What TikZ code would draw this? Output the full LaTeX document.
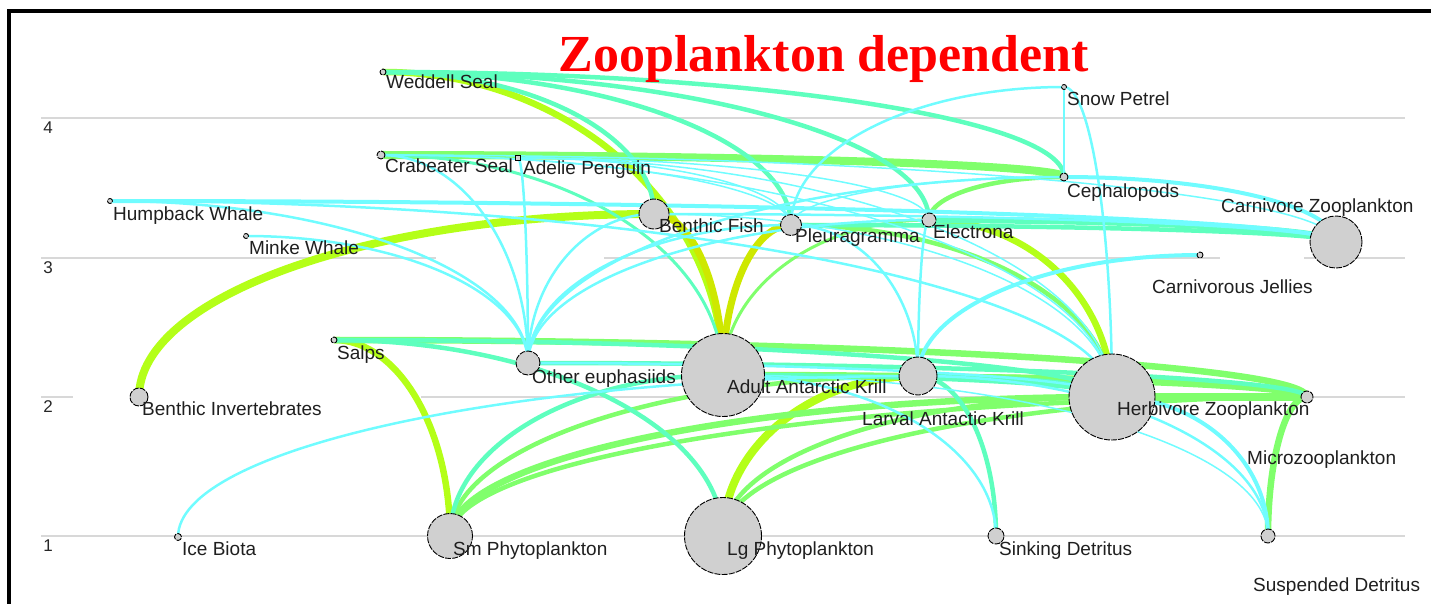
\documentclass[tikz,border=0pt]{standalone}
\usepackage{fontspec}
\setmainfont{Liberation Serif}
\setsansfont{Liberation Sans}
\usetikzlibrary{calc,backgrounds}

\definecolor{flowcyan}{RGB}{112,252,255}
\definecolor{flowaqua}{RGB}{94,255,190}
\definecolor{flowgreen}{RGB}{128,255,108}
\definecolor{flowlime}{RGB}{180,255,24}
\definecolor{flowolive}{RGB}{206,232,0}
\definecolor{nodegray}{RGB}{208,208,208}
\definecolor{gridgray}{RGB}{216,216,216}

\tikzset{
  taxon/.style={circle, draw=black, line width=0.9pt, dash pattern=on 6pt off 1.2pt,
    fill=nodegray, inner sep=0pt, minimum size=#1},
  taxlabel/.style={anchor=base west, inner sep=0pt, text=black!88,
    font=\sffamily\fontsize{19}{19}\selectfont},
  ticklabel/.style={inner sep=0pt, text=black!85, font=\sffamily\fontsize{17}{17}\selectfont},
  gridline/.style={draw=gridgray, line width=1.5pt},
  cyA/.style={draw=flowcyan, line width=1.5pt},
  cyB/.style={draw=flowcyan, line width=2.5pt},
  cyC/.style={draw=flowcyan, line width=4pt},
  aqT/.style={draw=flowaqua, line width=3pt},
  aqA/.style={draw=flowaqua, line width=4.5pt},
  aqB/.style={draw=flowaqua, line width=6.5pt},
  grT/.style={draw=flowgreen, line width=3pt},
  grA/.style={draw=flowgreen, line width=4.5pt},
  grB/.style={draw=flowgreen, line width=6.5pt},
  grC/.style={draw=flowgreen, line width=8pt},
  ygA/.style={draw=flowlime, line width=6.5pt},
  ygB/.style={draw=flowlime, line width=8pt},
  olB/.style={draw=flowolive, line width=7pt}
}

% quarter ellipse: up out of the prey, level into the predator
\newcommand{\foodflow}[3]{%
  \draw[#3] (#1.center) .. controls ($(#1.center)!0.55!(#1.center|-#2.center)$)
    and ($(#2.center)!0.55!(#1.center|-#2.center)$) .. (#2.center);}

\begin{document}
\begin{tikzpicture}[x=1pt,y=-1pt]
\useasboundingbox (0,0) rectangle (1431,604);

% groups
\node[taxon=6pt] (weddell) at (383,72) {};
\node[taxon=5pt] (petrel) at (1064,87) {};
\node[taxon=8pt] (crabeater) at (381,155) {};
\node[rectangle, draw=black, line width=0.9pt, fill=nodegray, inner sep=0pt, minimum size=5pt] (adelie) at (518,158) {};
\node[taxon=8pt] (cephal) at (1064,177) {};
\node[taxon=5pt] (humpback) at (110,201) {};
\node[taxon=5pt] (minke) at (246,236) {};
\node[taxon=30pt] (bfish) at (654,214) {};
\node[taxon=21pt] (pleura) at (791,225) {};
\node[taxon=14pt] (electrona) at (929,220) {};
\node[taxon=52pt] (carnzoo) at (1336,242) {};
\node[taxon=6pt] (jellies) at (1200,255) {};
\node[taxon=6pt] (salps) at (334,340) {};
\node[taxon=24pt] (euph) at (528,363) {};
\node[taxon=83pt] (akrill) at (723,375) {};
\node[taxon=38pt] (lkrill) at (918,376) {};
\node[taxon=86pt] (herbzoo) at (1112,397) {};
\node[taxon=12pt] (microzoo) at (1307,397) {};
\node[taxon=18pt] (binv) at (139,397) {};
\node[taxon=7pt] (icebiota) at (178,537) {};
\node[taxon=45pt] (smphyto) at (450,536) {};
\node[taxon=77pt] (lgphyto) at (723,536) {};
\node[taxon=16pt] (sinkdet) at (996,536) {};
\node[taxon=14pt] (suspdet) at (1268,536) {};

\begin{pgfonlayer}{background}
\draw[gridline] (41,118) -- (1405,118);
\draw[gridline] (41,258) -- (436,258);
\draw[gridline] (604,258) -- (1220,258);
\draw[gridline] (1304,258) -- (1405,258);
\draw[gridline] (41,397) -- (73,397);
\draw[gridline] (421,397) -- (1405,397);
\draw[gridline] (41,536) -- (1405,536);
% flows, prey/predator/look
\foreach \prey/\pred/\kind in {
  binv/bfish/ygB, akrill/weddell/ygA, akrill/bfish/olB, akrill/pleura/olB,
  lgphyto/lkrill/ygB, smphyto/salps/ygA,
  herbzoo/electrona/ygA, cephal/crabeater/grC, microzoo/herbzoo/grC,
  microzoo/salps/grB, microzoo/akrill/grB, microzoo/lkrill/grA,
  smphyto/herbzoo/grB, smphyto/microzoo/grA, smphyto/lkrill/grA,
  lgphyto/herbzoo/grA, lgphyto/microzoo/grA, suspdet/microzoo/grB,
  herbzoo/pleura/grA, electrona/cephal/grA, akrill/electrona/grT,
  bfish/weddell/aqA, pleura/weddell/aqA, electrona/weddell/aqA, cephal/weddell/aqA,
  carnzoo/electrona/aqB, carnzoo/pleura/aqA, microzoo/euph/aqA,
  herbzoo/akrill/aqA, herbzoo/salps/aqA, lgphyto/salps/aqA, smphyto/akrill/aqA,
  sinkdet/lkrill/aqA, herbzoo/lkrill/aqA, akrill/crabeater/aqT,
  euph/crabeater/cyB, euph/adelie/cyB, euph/humpback/cyB, euph/minke/cyB,
  euph/bfish/cyB, euph/pleura/cyB, euph/electrona/cyB, euph/cephal/cyB,
  pleura/adelie/cyA, pleura/petrel/cyB, pleura/cephal/cyA, pleura/crabeater/cyA,
  electrona/adelie/cyA, cephal/petrel/cyA, herbzoo/petrel/cyB,
  carnzoo/humpback/cyC, carnzoo/bfish/cyB, carnzoo/cephal/cyC, carnzoo/crabeater/cyA,
  herbzoo/humpback/cyB, herbzoo/bfish/cyA, herbzoo/euph/cyB,
  herbzoo/adelie/cyA, herbzoo/crabeater/cyA,
  lkrill/pleura/cyB, lkrill/electrona/cyB, lkrill/jellies/cyC,
  icebiota/lkrill/cyB, suspdet/herbzoo/cyC, suspdet/lkrill/cyB,
  suspdet/akrill/cyA, sinkdet/akrill/cyB}
  {\foodflow{\prey}{\pred}{\kind}}
\end{pgfonlayer}

% frame
\draw[line width=4pt] (9,604) -- (9,11) -- (1431,11);

% axis
\node[ticklabel] (tick4) at (48,128) {4};
\node[ticklabel] (tick3) at (48,268) {3};
\node[ticklabel] (tick2) at (48,407) {2};
\node[ticklabel] (tick1) at (48,546) {1};

% labels
\node[taxlabel] (weddelltag) at (386,89) {Weddell Seal};
\node[taxlabel] (petreltag) at (1067,106) {Snow Petrel};
\node[taxlabel] (crabeatertag) at (385,173) {Crabeater Seal};
\node[taxlabel] (adelietag) at (523,175) {Adelie Penguin};
\node[taxlabel] (cephaltag) at (1067,197) {Cephalopods};
\node[taxlabel] (humpbacktag) at (113,220) {Humpback Whale};
\node[taxlabel] (minketag) at (249,254) {Minke Whale};
\node[taxlabel] (bfishtag) at (659,232) {Benthic Fish};
\node[taxlabel] (pleuratag) at (795,242) {Pleuragramma};
\node[taxlabel] (electronatag) at (933,238) {Electrona};
\node[taxlabel] (carnzootag) at (1221,212) {Carnivore Zooplankton};
\node[taxlabel] (jelliestag) at (1152,293) {Carnivorous Jellies};
\node[taxlabel] (salpstag) at (337,359) {Salps};
\node[taxlabel] (euphtag) at (532,383) {Other euphasiids};
\node[taxlabel] (akrilltag) at (727,393) {Adult Antarctic Krill};
\node[taxlabel] (lkrilltag) at (862,425) {Larval Antactic Krill};
\node[taxlabel] (herbzootag) at (1117,415) {Herbivore Zooplankton};
\node[taxlabel] (microzootag) at (1247,464) {Microzooplankton};
\node[taxlabel] (binvtag) at (142,415) {Benthic Invertebrates};
\node[taxlabel] (icebiotatag) at (182,555) {Ice Biota};
\node[taxlabel] (smphytotag) at (453,555) {Sm Phytoplankton};
\node[taxlabel] (lgphytotag) at (727,555) {Lg Phytoplankton};
\node[taxlabel] (sinkdettag) at (999,555) {Sinking Detritus};
\node[taxlabel] (suspdettag) at (1253,591) {Suspended Detritus};

% title
\node[anchor=base, inner sep=0pt, text=red, font=\bfseries\fontsize{52}{52}\selectfont] (title) at (824,72) {Zooplankton dependent};
\end{tikzpicture}
\end{document}
